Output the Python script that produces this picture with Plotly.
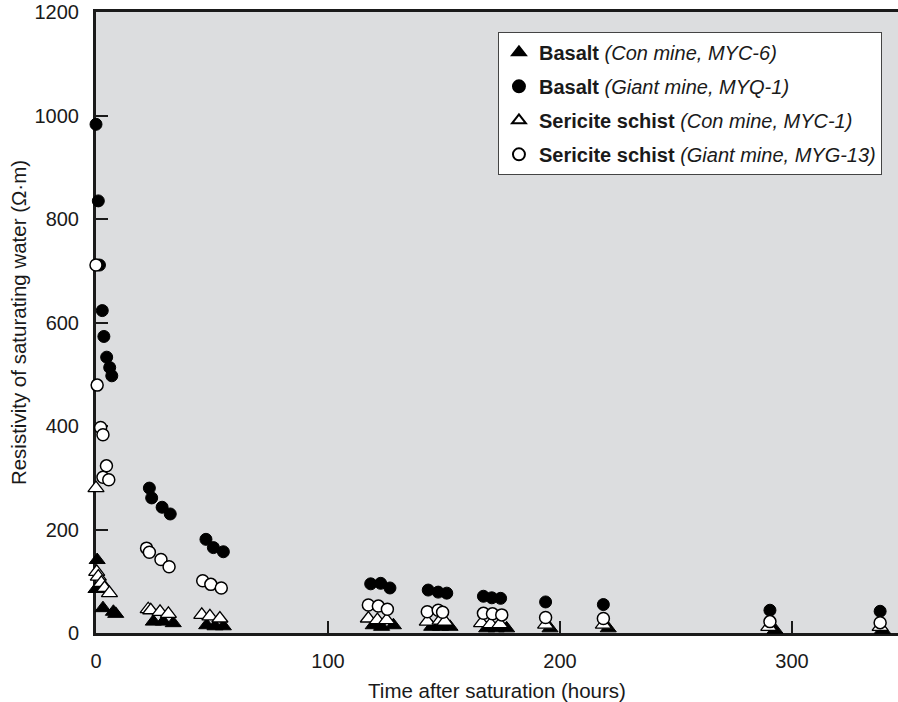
import plotly.graph_objects as go

# Basalt (Con mine, MYC-6) - filled triangles
basalt_con_x = [0.5, 0, 3, 7.5, 8.5, 24.7, 29, 33.3, 47.7, 51.3, 54.9, 119.5, 123.1, 128.2,
                144.7, 148.5, 152.6, 168.4, 172.5, 177, 195.7, 220.8, 292.7, 339]
basalt_con_y = [141, 85, 48, 41, 37, 22, 22, 19, 15, 13, 13, 15, 12, 15,
                12, 12, 12, 9, 9, 9, 9, 9, 6, 6]

# Basalt (Giant mine, MYQ-1) - filled circles
basalt_giant_x = [0, 1, 1.5, 2.7, 3.4, 4.6, 5.9, 6.8, 23, 24, 28.5, 32, 47.4, 50.6, 54.9,
                  118.4, 122.7, 126.7, 143.2, 147.5, 151.2, 167, 170.6, 174.4, 193.8, 218.7,
                  290.5, 338]
basalt_giant_y = [983, 835, 711, 623, 573, 533, 513, 497, 280, 261, 243, 230, 181, 165, 157,
                  95, 96, 87, 83, 79, 77, 71, 68, 67, 60, 55, 44, 42]

# Sericite schist (Con mine, MYC-1) - open triangles
sericite_con_x = [0, 0.3, 1, 2.3, 3.7, 5.8, 22.5, 23.6, 27.6, 31.2, 45.6, 49.1, 53.4,
                  117.4, 121.3, 125.3, 142.8, 148.3, 150.4, 166.2, 170.1, 174.1, 193.8,
                  218.7, 290, 338]
sericite_con_y = [280, 118, 109, 97, 87, 77, 46, 44, 41, 37, 35, 32, 28,
                  28, 25, 25, 22, 24, 22, 19, 17, 17, 16, 16, 12, 12]

# Sericite schist (Giant mine, MYG-13) - open circles
sericite_giant_x = [0, 0.5, 2, 3, 4.5, 3, 5.5, 21.8, 23, 28, 31.5, 46, 49.5, 54,
                    117.4, 121.7, 125.6, 142.8, 147.5, 149.4, 167, 170.9, 174.9, 193.8,
                    218.7, 290.5, 338]
sericite_giant_y = [711, 479, 397, 383, 323, 301, 296, 164, 156, 142, 128, 101, 94, 87,
                    54, 52, 46, 41, 44, 40, 38, 37, 35, 30, 28, 22, 20]

legend_names = [
    "<b>Basalt</b> <i>(Con mine, MYC-6)</i>",
    "<b>Basalt</b> <i>(Giant mine, MYQ-1)</i>",
    "<b>Sericite schist</b> <i>(Con mine, MYC-1)</i>",
    "<b>Sericite schist</b> <i>(Giant mine, MYG-13)</i>",
]

x_ticks = [0, 100, 200, 300]
y_ticks = [0, 200, 400, 600, 800, 1000, 1200]

FONT = "Liberation Sans, Arial, Helvetica, sans-serif"
INK = "#1a1a1a"

fig = go.Figure()
fig.add_trace(go.Scatter(
    x=basalt_con_x, y=basalt_con_y, mode="markers", name=legend_names[0],
    legendgroup="a",
    marker=dict(symbol="triangle-up", size=14, color="black",
                line=dict(color="black", width=1)),
    cliponaxis=False))
fig.add_trace(go.Scatter(
    x=basalt_giant_x, y=basalt_giant_y, mode="markers", name=legend_names[1],
    legendgroup="b",
    marker=dict(symbol="circle", size=12, color="black",
                line=dict(color="black", width=1)),
    cliponaxis=False))
fig.add_trace(go.Scatter(
    x=sericite_con_x, y=sericite_con_y, mode="markers", name=legend_names[2],
    legendgroup="c",
    marker=dict(symbol="triangle-up", size=14, color="white",
                line=dict(color="black", width=1.3)),
    cliponaxis=False))
fig.add_trace(go.Scatter(
    x=sericite_giant_x, y=sericite_giant_y, mode="markers", name=legend_names[3],
    legendgroup="d",
    marker=dict(symbol="circle", size=12, color="white",
                line=dict(color="black", width=1.5)),
    cliponaxis=False))

fig.update_layout(
    width=898, height=702,
    margin=dict(l=96, r=0, t=12, b=69),
    paper_bgcolor="white",
    plot_bgcolor="#dcdddf",
    font=dict(family=FONT, color=INK, size=20),
    showlegend=True,
    legend=dict(
        x=0.98, y=0.968, xanchor="right", yanchor="top",
        bgcolor="white", bordercolor="#444444", borderwidth=1,
        font=dict(family=FONT, size=20, color=INK),
        tracegroupgap=5, itemsizing="constant", traceorder="grouped",
    ),
    xaxis=dict(
        range=[0, 345.7], tickvals=x_ticks, ticktext=[str(v) for v in x_ticks],
        ticks="inside", ticklen=12, tickwidth=1.5, tickcolor=INK,
        showline=True, linecolor=INK, linewidth=2.5, mirror=True,
        showgrid=False, zeroline=False, layer="below traces",
        tickfont=dict(size=20, family=FONT, color=INK),
        ticklabelstandoff=8,
        title=dict(text="Time after saturation (hours)", standoff=14,
                   font=dict(size=20.5, family=FONT, color=INK)),
    ),
    yaxis=dict(
        range=[0, 1200], tickvals=y_ticks, ticktext=[str(v) for v in y_ticks],
        ticks="inside", ticklen=12, tickwidth=1.5, tickcolor=INK,
        showline=True, linecolor=INK, linewidth=3,
        showgrid=False, zeroline=False, layer="below traces",
        tickfont=dict(size=20, family=FONT, color=INK),
        ticklabelstandoff=10, ticklabeloverflow="allow",
        title=dict(text="Resistivity of saturating water (Ω·m)", standoff=3,
                   font=dict(size=20.5, family=FONT, color=INK)),
    ),
)

# remove the browser's default 8px body margin so the figure fills the window exactly
fig.write_html("out.html",
               config={"displayModeBar": False},
               post_script="document.body.style.margin='0';document.body.style.overflow='hidden';")
